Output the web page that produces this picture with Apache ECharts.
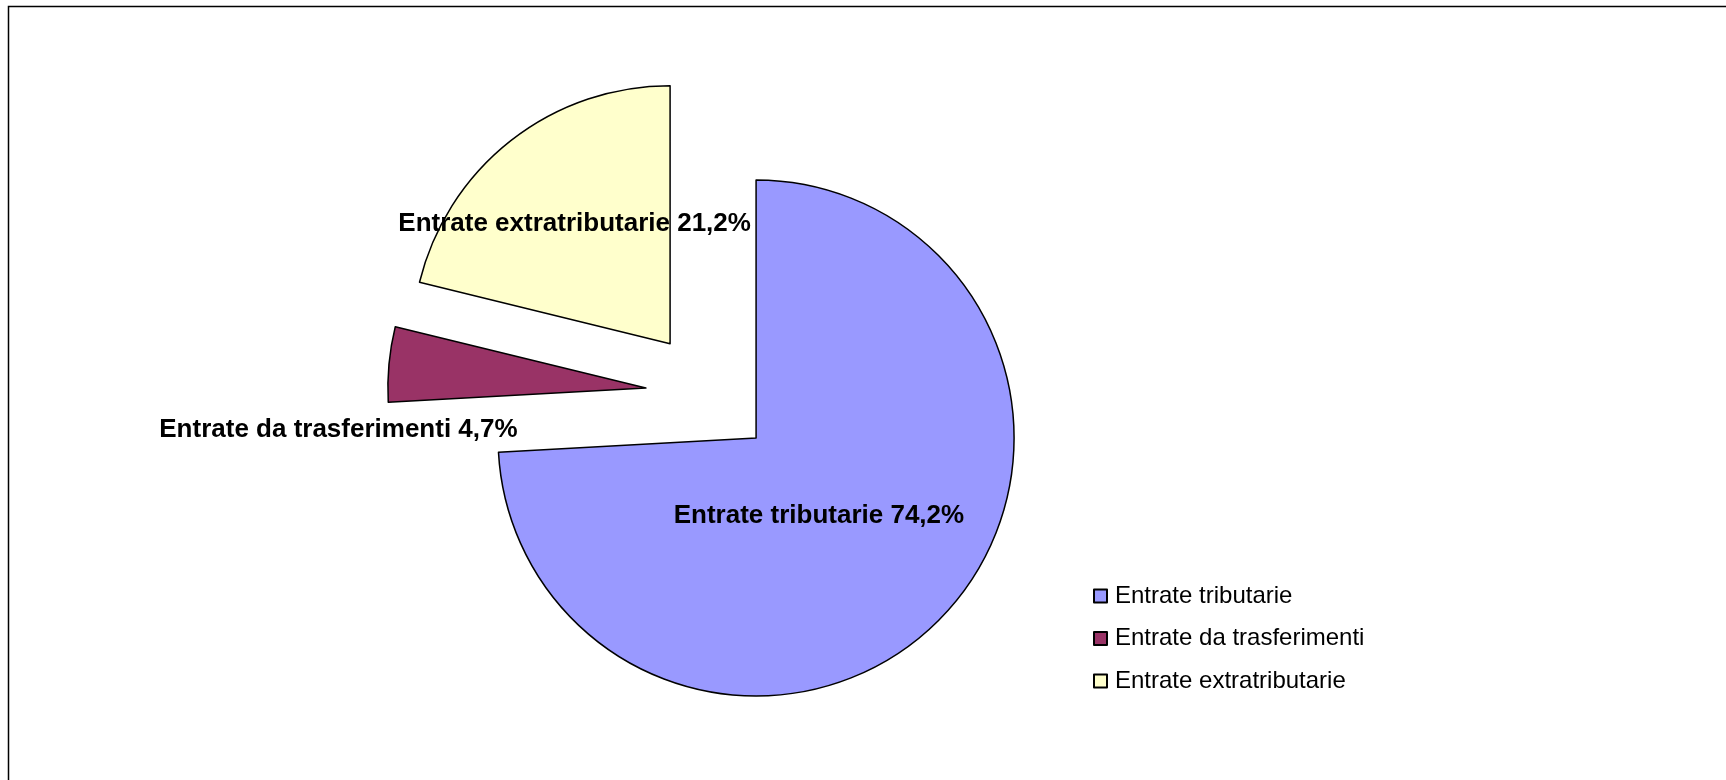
<!DOCTYPE html>
<html>
<head>
<meta charset="utf-8">
<script src="https://cdn.jsdelivr.net/npm/echarts@6/dist/echarts.min.js"></script>
<style>
html,body{margin:0;padding:0;background:#fff;}
#chart{width:1726px;height:780px;}
</style>
</head>
<body>
<div id="chart"></div>
<script>
const categories = ['Entrate tributarie', 'Entrate da trasferimenti', 'Entrate extratributarie'];
const values = [74.2, 4.7, 21.2];
const colors = ['#9999FF', '#993366', '#FFFFCC'];
// label nudges (dx, dy) relative to the library's inside label anchor
const labelShift = [[-33, -13], [-176, 54], [-14, -16]];

const chart = echarts.init(document.getElementById('chart'), null, {renderer: 'canvas'});
const data = categories.map((c, i) => ({
  name: c,
  value: values[i],
  selected: true,
  itemStyle: {color: colors[i]}
}));

chart.setOption({
  animation: false,
  backgroundColor: '#fff',
  graphic: [{
    type: 'rect',
    shape: {x: 8.5, y: 6.5, width: 3000, height: 3000},
    style: {fill: 'none', stroke: '#000', lineWidth: 1.5},
    silent: true
  }],
  legend: {
    orient: 'vertical',
    left: 1088,
    top: 579,
    itemWidth: 13,
    itemHeight: 13,
    itemGap: 18.5,
    icon: 'rect',
    selectedMode: false,
    textStyle: {fontFamily: 'Liberation Sans', fontSize: 24, color: '#000', padding: [0, 0, 0, 3]},
    data: categories
  },
  series: [{
    type: 'pie',
    center: [709.6, 394],
    radius: [0, 258],
    startAngle: 90,
    clockwise: true,
    selectedMode: 'multiple',
    selectedOffset: 64,
    avoidLabelOverlap: false,
    emphasis: {disabled: true},
    select: {itemStyle: {borderColor: '#000', borderWidth: 1.5}, label: {color: '#000'}},
    itemStyle: {borderColor: '#000', borderWidth: 1.5},
    label: {
      show: true,
      position: 'inside',
      color: '#000',
      fontFamily: 'Liberation Sans',
      fontWeight: 'bold',
      fontSize: 26,
      formatter: p => p.name + ' ' + p.value.toFixed(1).replace('.', ',') + '%'
    },
    labelLine: {show: false},
    labelLayout: function (params) {
      const s = labelShift[params.dataIndex];
      return {dx: s[0], dy: s[1]};
    },
    data: data
  }]
});
</script>
</body>
</html>
